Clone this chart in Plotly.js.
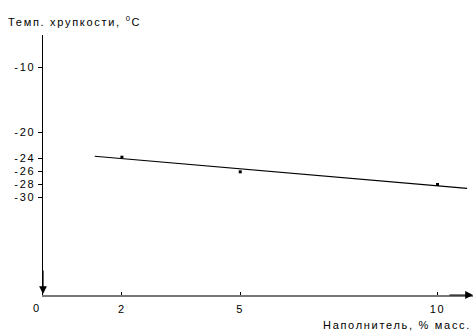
<!DOCTYPE html>
<html><head><meta charset="utf-8">
<script src="https://cdn.plot.ly/plotly-3.0.1.min.js"></script>
<style>body{margin:0;background:#fff} text{letter-spacing:1.7px}</style>
</head><body><div id="c" style="width:475px;height:332px"></div>
<script>
const pointX = [2, 5, 10];
const pointY = [-23.8, -26.05, -28.0];
const fitX = [1.31, 10.75];
const fitY = [-23.65, -28.6];
const yTickVals = [-10, -20, -24, -26, -28, -30];
const yTickText = ['-10', '-20', '-24', '-26', '-28', '-30'];
const xTickVals = [2, 5, 10];
const xTickText = ['2', '5', '10'];
const xRange = [0, 10.9];
const yRange = [-45, -5];
const yTitle = 'Темп. хрупкости, <sup>0</sup>C';
const xTitle = 'Наполнитель, % масс.';
const fnt = {family: 'Liberation Sans, Arial, sans-serif', size: 11, color: '#000'};

const traces = [
  {x: fitX, y: fitY, mode: 'lines', line: {color: '#000', width: 1.2}, hoverinfo: 'skip'},
  {x: pointX, y: pointY, mode: 'markers', marker: {symbol: 'square', size: 3, color: '#000'}}
];
const layout = {
  width: 475, height: 332, showlegend: false,
  margin: {l: 43, r: 2, t: 35, b: 37},
  paper_bgcolor: '#fff', plot_bgcolor: '#fff',
  font: fnt,
  title: {text: yTitle, font: fnt, xref: 'container', yref: 'container', x: 0.017, xanchor: 'left', y: 0.934, yanchor: 'middle'},
  xaxis: {range: xRange, tickvals: xTickVals, ticktext: xTickText, showgrid: false, zeroline: false,
    showline: true, linecolor: '#777', linewidth: 2, ticks: 'inside', ticklen: 3, tickcolor: '#000', tickwidth: 1,
    tickfont: fnt, ticklabelstandoff: 3, fixedrange: true},
  yaxis: {range: yRange, tickvals: yTickVals, ticktext: yTickText, showgrid: false, zeroline: false,
    showline: true, linecolor: '#000', linewidth: 1.5, ticks: 'outside', ticklen: 4, tickcolor: '#000', tickwidth: 1,
    tickfont: fnt, fixedrange: true},
  annotations: [
    {xref: 'paper', yref: 'paper', x: 1, y: 0, xanchor: 'right', yanchor: 'middle', yshift: -30, text: xTitle, showarrow: false, font: fnt},
    {xref: 'paper', yref: 'paper', x: 0, y: 0, xanchor: 'center', yanchor: 'middle', xshift: -6, yshift: -13, text: '0', showarrow: false, font: fnt},
    {x: xRange[0], y: yRange[0] + 0.15, ax: 0, ay: -25, text: '', showarrow: true, arrowhead: 2, arrowsize: 1.3, arrowwidth: 1.2, arrowcolor: '#000'},
    {x: xRange[1], y: yRange[0], ax: -25, ay: 0, text: '', showarrow: true, arrowhead: 2, arrowsize: 1.3, arrowwidth: 1.2, arrowcolor: '#000'}
  ]
};
Plotly.newPlot('c', traces, layout, {displayModeBar: false, staticPlot: true});
</script></body></html>
